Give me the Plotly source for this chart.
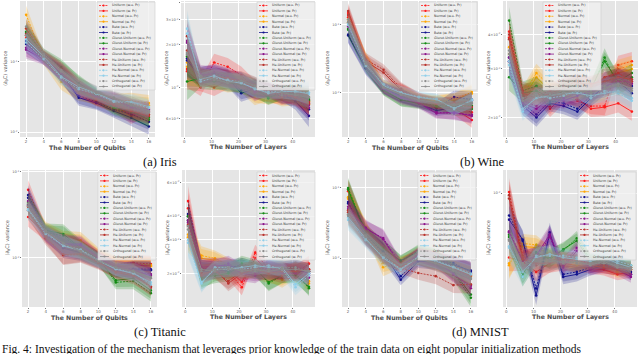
import plotly.graph_objects as go

x_qubits = [2, 4, 6, 8, 10, 12, 14, 16]
x_layers = [1, 6, 11, 16, 21, 26, 31, 36, 41, 46]

methods = ["Uniform", "Normal", "Beta", "Glorot-Uniform", "Glorot-Normal",
           "He-Uniform", "He-Normal", "Orthogonal"]
method_colors = ["#ff1a1a", "#ffa500", "#10108c", "#138a13", "#8a138a",
                 "#b8322c", "#8fcfea", "#8c8c8c"]
variants = ["w.o. Pr", "w. Pr"]

# rows: Uniform wo, Uniform w, Normal wo, Normal w, Beta wo, Beta w, GlorotU wo, GlorotU w,
#       GlorotN wo, GlorotN w, HeU wo, HeU w, HeN wo, HeN w, Orth wo, Orth w
iris_qubits = [
    [0.24, 0.12, 0.075, 0.042, 0.032, 0.026, 0.018, 0.020],
    [0.22, 0.11, 0.070, 0.040, 0.030, 0.024, 0.017, 0.022],
    [0.47, 0.11, 0.052, 0.036, 0.031, 0.028, 0.028, 0.026],
    [0.30, 0.12, 0.060, 0.038, 0.030, 0.025, 0.025, 0.024],
    [0.20, 0.12, 0.065, 0.033, 0.027, 0.021, 0.018, 0.014],
    [0.18, 0.11, 0.068, 0.031, 0.026, 0.020, 0.016, 0.012],
    [0.27, 0.13, 0.085, 0.048, 0.033, 0.022, 0.019, 0.016],
    [0.26, 0.12, 0.080, 0.050, 0.034, 0.023, 0.020, 0.015],
    [0.16, 0.115, 0.070, 0.040, 0.031, 0.029, 0.022, 0.020],
    [0.15, 0.11, 0.072, 0.042, 0.032, 0.030, 0.023, 0.021],
    [0.30, 0.125, 0.078, 0.045, 0.030, 0.025, 0.021, 0.018],
    [0.25, 0.12, 0.074, 0.043, 0.029, 0.024, 0.020, 0.017],
    [0.19, 0.11, 0.060, 0.041, 0.035, 0.027, 0.026, 0.022],
    [0.21, 0.12, 0.062, 0.044, 0.036, 0.028, 0.027, 0.023],
    [0.32, 0.13, 0.077, 0.046, 0.037, 0.030, 0.024, 0.019],
    [0.24, 0.12, 0.073, 0.047, 0.036, 0.031, 0.025, 0.020],
]
iris_qubits_spread = [1.35, 1.2, 1.3, 1.3, 1.25, 1.25, 1.3, 1.3]

iris_layers = [
    [0.0135, 0.0100, 0.0150, 0.0140, 0.0122, 0.0098, 0.0092, 0.0095, 0.0088, 0.0082],
    [0.0130, 0.0108, 0.0100, 0.0112, 0.0110, 0.0095, 0.0088, 0.0084, 0.0090, 0.0078],
    [0.0140, 0.0115, 0.0118, 0.0110, 0.0105, 0.0086, 0.0090, 0.0082, 0.0086, 0.0080],
    [0.0150, 0.0120, 0.0112, 0.0106, 0.0108, 0.0090, 0.0085, 0.0088, 0.0092, 0.0076],
    [0.0160, 0.0122, 0.0125, 0.0118, 0.0095, 0.0100, 0.0094, 0.0086, 0.0084, 0.0070],
    [0.0155, 0.0118, 0.0120, 0.0116, 0.0091, 0.0098, 0.0096, 0.0090, 0.0080, 0.0063],
    [0.0165, 0.0112, 0.0110, 0.0112, 0.0106, 0.0100, 0.0084, 0.0092, 0.0088, 0.0083],
    [0.0110, 0.0116, 0.0114, 0.0108, 0.0104, 0.0096, 0.0086, 0.0090, 0.0091, 0.0081],
    [0.0213, 0.0125, 0.0122, 0.0114, 0.0112, 0.0092, 0.0098, 0.0087, 0.0090, 0.0075],
    [0.0207, 0.0120, 0.0128, 0.0120, 0.0110, 0.0094, 0.0096, 0.0089, 0.0086, 0.0072],
    [0.0230, 0.0118, 0.0116, 0.0115, 0.0113, 0.0104, 0.0095, 0.0085, 0.0089, 0.0079],
    [0.0182, 0.0113, 0.0119, 0.0117, 0.0108, 0.0101, 0.0092, 0.0091, 0.0085, 0.0077],
    [0.0260, 0.0110, 0.0117, 0.0113, 0.0109, 0.0097, 0.0093, 0.0094, 0.0093, 0.0092],
    [0.0240, 0.0114, 0.0121, 0.0111, 0.0107, 0.0099, 0.0091, 0.0093, 0.0094, 0.0090],
    [0.0170, 0.0121, 0.0113, 0.0109, 0.0111, 0.0102, 0.0097, 0.0088, 0.0090, 0.0086],
    [0.0175, 0.0117, 0.0115, 0.0107, 0.0112, 0.0103, 0.0099, 0.0092, 0.0088, 0.0085],
]
iris_layers_spread = [1.35, 1.15, 1.15, 1.15, 1.15, 1.15, 1.12, 1.12, 1.15, 1.2]

wine_qubits = [
    [0.13, 0.030, 0.013, 0.011, 0.0085, 0.0072, 0.0065, 0.0052],
    [0.15, 0.028, 0.012, 0.0105, 0.0080, 0.0068, 0.0060, 0.0040],
    [0.12, 0.032, 0.0125, 0.0100, 0.0082, 0.0078, 0.0080, 0.0103],
    [0.11, 0.030, 0.0130, 0.0098, 0.0078, 0.0075, 0.0078, 0.0098],
    [0.072, 0.024, 0.0120, 0.0092, 0.0075, 0.0060, 0.0087, 0.0080],
    [0.070, 0.023, 0.0115, 0.0090, 0.0072, 0.0055, 0.0062, 0.0078],
    [0.085, 0.026, 0.0112, 0.0080, 0.0073, 0.0065, 0.0063, 0.0065],
    [0.088, 0.025, 0.0110, 0.0079, 0.0070, 0.0062, 0.0058, 0.0058],
    [0.10, 0.027, 0.0118, 0.0088, 0.0074, 0.0052, 0.0050, 0.0048],
    [0.095, 0.026, 0.0116, 0.0085, 0.0071, 0.0050, 0.0052, 0.0046],
    [0.14, 0.031, 0.022, 0.0115, 0.0084, 0.0070, 0.0072, 0.0076],
    [0.16, 0.029, 0.020, 0.0110, 0.0081, 0.0069, 0.0070, 0.0062],
    [0.10, 0.025, 0.0135, 0.0102, 0.0088, 0.0082, 0.0058, 0.0080],
    [0.105, 0.027, 0.0128, 0.0100, 0.0086, 0.0080, 0.0060, 0.0077],
    [0.12, 0.028, 0.0122, 0.0094, 0.0077, 0.0074, 0.0068, 0.0070],
    [0.11, 0.027, 0.0120, 0.0096, 0.0079, 0.0073, 0.0066, 0.0072],
]
wine_qubits_spread = [1.3, 1.25, 1.2, 1.25, 1.2, 1.2, 1.25, 1.3]

wine_layers = [
    [0.041, 0.024, 0.026, 0.022, 0.025, 0.023, 0.022, 0.022, 0.031, 0.032],
    [0.039, 0.023, 0.025, 0.0215, 0.024, 0.0235, 0.0215, 0.0218, 0.0225, 0.021],
    [0.036, 0.024, 0.029, 0.026, 0.024, 0.025, 0.0245, 0.026, 0.030, 0.031],
    [0.034, 0.0235, 0.028, 0.025, 0.0245, 0.0255, 0.024, 0.025, 0.029, 0.030],
    [0.033, 0.0225, 0.0205, 0.023, 0.0225, 0.0215, 0.024, 0.027, 0.028, 0.026],
    [0.032, 0.022, 0.020, 0.0225, 0.022, 0.021, 0.0235, 0.026, 0.027, 0.0245],
    [0.045, 0.025, 0.026, 0.024, 0.0255, 0.026, 0.025, 0.033, 0.026, 0.028],
    [0.028, 0.0245, 0.025, 0.0235, 0.025, 0.0245, 0.0255, 0.032, 0.027, 0.029],
    [0.033, 0.023, 0.022, 0.024, 0.0235, 0.0245, 0.0245, 0.026, 0.027, 0.027],
    [0.032, 0.0225, 0.0215, 0.0235, 0.023, 0.024, 0.025, 0.0255, 0.028, 0.0265],
    [0.040, 0.025, 0.024, 0.025, 0.026, 0.027, 0.026, 0.028, 0.029, 0.027],
    [0.0385, 0.0245, 0.0235, 0.0245, 0.0255, 0.0265, 0.0265, 0.027, 0.028, 0.0275],
    [0.031, 0.021, 0.024, 0.0235, 0.024, 0.025, 0.0235, 0.025, 0.0245, 0.023],
    [0.032, 0.0215, 0.0235, 0.024, 0.0245, 0.0245, 0.024, 0.0245, 0.025, 0.0235],
    [0.035, 0.0235, 0.0245, 0.0245, 0.025, 0.0255, 0.025, 0.026, 0.026, 0.025],
    [0.034, 0.023, 0.024, 0.024, 0.0245, 0.025, 0.0245, 0.0255, 0.0265, 0.0255],
]
wine_layers_spread = [1.12, 1.08, 1.08, 1.07, 1.07, 1.07, 1.07, 1.08, 1.08, 1.08]

titanic_qubits = [
    [0.062, 0.020, 0.015, 0.0135, 0.0105, 0.0085, 0.0088, 0.0085],
    [0.030, 0.019, 0.014, 0.0130, 0.0100, 0.0080, 0.0082, 0.0082],
    [0.045, 0.022, 0.016, 0.0160, 0.0110, 0.0088, 0.0085, 0.0083],
    [0.040, 0.021, 0.015, 0.0150, 0.0105, 0.0083, 0.0080, 0.0080],
    [0.054, 0.020, 0.0135, 0.0120, 0.0095, 0.0072, 0.0075, 0.0074],
    [0.050, 0.019, 0.0130, 0.0115, 0.0092, 0.0070, 0.0073, 0.0072],
    [0.044, 0.020, 0.018, 0.0125, 0.0100, 0.0052, 0.0054, 0.0039],
    [0.042, 0.021, 0.019, 0.0130, 0.0098, 0.0055, 0.0058, 0.0042],
    [0.046, 0.018, 0.0140, 0.0140, 0.0098, 0.0078, 0.0070, 0.0065],
    [0.041, 0.019, 0.0145, 0.0145, 0.0102, 0.0076, 0.0072, 0.0062],
    [0.036, 0.018, 0.0108, 0.0110, 0.0088, 0.0070, 0.0065, 0.0045],
    [0.038, 0.017, 0.0110, 0.0112, 0.0090, 0.0068, 0.0062, 0.0047],
    [0.036, 0.019, 0.0140, 0.0125, 0.0095, 0.0075, 0.0068, 0.0049],
    [0.037, 0.020, 0.0138, 0.0122, 0.0093, 0.0074, 0.0066, 0.0052],
    [0.043, 0.021, 0.0150, 0.0118, 0.0091, 0.0078, 0.0069, 0.0060],
    [0.040, 0.020, 0.0148, 0.0120, 0.0094, 0.0077, 0.0071, 0.0058],
]
titanic_qubits_spread = [1.3, 1.2, 1.3, 1.25, 1.2, 1.2, 1.25, 1.25]

titanic_layers = [
    [0.048, 0.021, 0.022, 0.0205, 0.0169, 0.0257, 0.021, 0.021, 0.020, 0.0225],
    [0.044, 0.0205, 0.0215, 0.021, 0.018, 0.024, 0.0205, 0.0205, 0.0205, 0.021],
    [0.032, 0.0248, 0.024, 0.022, 0.0205, 0.021, 0.020, 0.0185, 0.0205, 0.0177],
    [0.031, 0.024, 0.0235, 0.0215, 0.021, 0.0205, 0.0195, 0.019, 0.021, 0.0182],
    [0.041, 0.021, 0.021, 0.0215, 0.022, 0.021, 0.0215, 0.021, 0.0215, 0.0205],
    [0.040, 0.0205, 0.0205, 0.021, 0.0215, 0.0205, 0.021, 0.0205, 0.021, 0.020],
    [0.040, 0.0185, 0.020, 0.0205, 0.0225, 0.0215, 0.0177, 0.0195, 0.020, 0.0167],
    [0.038, 0.019, 0.0195, 0.020, 0.022, 0.021, 0.018, 0.0195, 0.0195, 0.017],
    [0.038, 0.021, 0.0215, 0.0225, 0.0205, 0.020, 0.0205, 0.0205, 0.0205, 0.0195],
    [0.037, 0.0215, 0.022, 0.022, 0.020, 0.0195, 0.0215, 0.020, 0.020, 0.019],
    [0.0355, 0.020, 0.0205, 0.0182, 0.0205, 0.0215, 0.0205, 0.0195, 0.021, 0.0205],
    [0.036, 0.0195, 0.021, 0.0177, 0.020, 0.021, 0.020, 0.0205, 0.0205, 0.021],
    [0.029, 0.0177, 0.0215, 0.0215, 0.021, 0.0215, 0.022, 0.021, 0.0169, 0.0195],
    [0.030, 0.018, 0.021, 0.021, 0.0215, 0.022, 0.0215, 0.0215, 0.0175, 0.020],
    [0.0355, 0.0205, 0.021, 0.021, 0.021, 0.0205, 0.021, 0.0215, 0.0215, 0.0205],
    [0.034, 0.021, 0.0205, 0.0215, 0.0205, 0.021, 0.0205, 0.021, 0.021, 0.0205],
]
titanic_layers_spread = [1.2, 1.12, 1.1, 1.1, 1.1, 1.1, 1.1, 1.1, 1.1, 1.1]

mnist_qubits = [
    [0.094, 0.024, 0.013, 0.0082, 0.0115, 0.0098, 0.0080, 0.0065],
    [0.090, 0.022, 0.012, 0.0078, 0.0110, 0.0095, 0.0076, 0.0060],
    [0.074, 0.027, 0.0074, 0.0085, 0.0105, 0.0090, 0.0072, 0.0055],
    [0.070, 0.026, 0.0085, 0.0088, 0.0100, 0.0088, 0.0070, 0.0058],
    [0.063, 0.021, 0.0125, 0.0055, 0.0095, 0.0092, 0.0085, 0.0063],
    [0.060, 0.020, 0.0120, 0.0049, 0.0090, 0.0088, 0.0080, 0.0066],
    [0.100, 0.023, 0.0140, 0.0090, 0.0125, 0.0105, 0.0062, 0.0027],
    [0.095, 0.022, 0.0135, 0.0092, 0.0120, 0.0100, 0.0065, 0.0030],
    [0.054, 0.026, 0.0193, 0.0080, 0.0108, 0.0096, 0.0060, 0.0037],
    [0.050, 0.027, 0.0185, 0.0076, 0.0112, 0.0094, 0.0058, 0.0040],
    [0.048, 0.020, 0.0115, 0.0072, 0.0061, 0.0055, 0.0041, 0.0042],
    [0.045, 0.019, 0.0110, 0.0075, 0.0100, 0.0085, 0.0072, 0.0056],
    [0.035, 0.018, 0.0105, 0.0070, 0.0105, 0.0092, 0.0075, 0.0060],
    [0.038, 0.019, 0.0100, 0.0068, 0.0102, 0.0090, 0.0073, 0.0058],
    [0.042, 0.021, 0.0115, 0.0080, 0.0098, 0.0086, 0.0068, 0.0052],
    [0.040, 0.020, 0.0110, 0.0079, 0.0096, 0.0084, 0.0066, 0.0050],
]
mnist_qubits_spread = [1.4, 1.3, 1.35, 1.2, 1.25, 1.3, 1.3, 1.35]

mnist_layers = [
    [0.0102, 0.0029, 0.0031, 0.0028, 0.0028, 0.0026, 0.0025, 0.0024, 0.0023, 0.0023],
    [0.0029, 0.0027, 0.0022, 0.0026, 0.0026, 0.0025, 0.0024, 0.0023, 0.0021, 0.0022],
    [0.0025, 0.0038, 0.0037, 0.0030, 0.0027, 0.0025, 0.0026, 0.0025, 0.0022, 0.0023],
    [0.0026, 0.0036, 0.0035, 0.0031, 0.0028, 0.0026, 0.0027, 0.0026, 0.0024, 0.0024],
    [0.0065, 0.0040, 0.0016, 0.0045, 0.0021, 0.0022, 0.0024, 0.0026, 0.0027, 0.0022],
    [0.0060, 0.0041, 0.0014, 0.0047, 0.0020, 0.0021, 0.0023, 0.0025, 0.0026, 0.0021],
    [0.0045, 0.0020, 0.0030, 0.0029, 0.0033, 0.0042, 0.0028, 0.0027, 0.0025, 0.0024],
    [0.0043, 0.0021, 0.0032, 0.0028, 0.0034, 0.0040, 0.0027, 0.0026, 0.0026, 0.0025],
    [0.0048, 0.0028, 0.0029, 0.0043, 0.0025, 0.0035, 0.0024, 0.0025, 0.0024, 0.0021],
    [0.0047, 0.0027, 0.0030, 0.0045, 0.0024, 0.0033, 0.0023, 0.0024, 0.0023, 0.0020],
    [0.0096, 0.0030, 0.0025, 0.0027, 0.0029, 0.0027, 0.0026, 0.0025, 0.0024, 0.0024],
    [0.0090, 0.0028, 0.0026, 0.0026, 0.0028, 0.0028, 0.0025, 0.0024, 0.0023, 0.0023],
    [0.0035, 0.0020, 0.0030, 0.0030, 0.0030, 0.0029, 0.0028, 0.0030, 0.0027, 0.0025],
    [0.0036, 0.0022, 0.0029, 0.0031, 0.0029, 0.0028, 0.0027, 0.0029, 0.0026, 0.0024],
    [0.0040, 0.0026, 0.0028, 0.0027, 0.0027, 0.0026, 0.0026, 0.0026, 0.0025, 0.0023],
    [0.0041, 0.0025, 0.0027, 0.0028, 0.0026, 0.0027, 0.0025, 0.0027, 0.0024, 0.0024],
]
mnist_layers_spread = [1.3, 1.2, 1.2, 1.2, 1.15, 1.15, 1.12, 1.12, 1.12, 1.12]

W, H = 640, 354


def px_x(p):
    return p / W


def px_y(p):
    return 1 - p / H


def rgba(hexcol, a):
    h = hexcol.lstrip("#")
    return f"rgba({int(h[0:2], 16)},{int(h[2:4], 16)},{int(h[4:6], 16)},{a})"


# panel: data, spread, x values, x px domain, y px domain, log y range, y ticks, x title, legend (left, top) px
panels = [
    (iris_qubits, iris_qubits_spread, x_qubits, (20, 155), (1, 137), [-2.07, -0.13],
     [0.01, 0.1], ["10<sup>-2</sup>", "10<sup>-1</sup>"], "The Number of Qubits", (97, 2)),
    (iris_layers, iris_layers_spread, x_layers, (181, 315), (1, 137), [-2.35, -1.39],
     [0.006, 0.01, 0.02, 0.03, 0.04],
     ["6×10<sup>-3</sup>", "10<sup>-2</sup>", "2×10<sup>-2</sup>", "3×10<sup>-2</sup>", "4×10<sup>-2</sup>"],
     "The Number of Layers", (257, 2)),
    (wine_qubits, wine_qubits_spread, x_qubits, (342, 478), (1, 137), [-2.647, -0.648],
     [0.01, 0.1], ["10<sup>-2</sup>", "10<sup>-1</sup>"], "The Number of Qubits", (419, 2)),
    (wine_layers, wine_layers_spread, x_layers, (503, 638), (1, 137), [-1.77, -1.276],
     [0.02, 0.03, 0.04], ["2×10<sup>-2</sup>", "3×10<sup>-2</sup>", "4×10<sup>-2</sup>"],
     "The Number of Layers", (543, 2)),
    (titanic_qubits, titanic_qubits_spread, x_qubits, (22, 157), (170, 307), [-2.57, -0.977],
     [0.01, 0.1], ["10<sup>-2</sup>", "10<sup>-1</sup>"], "The Number of Qubits", (98, 172)),
    (titanic_layers, titanic_layers_spread, x_layers, (182, 315), (170, 307), [-1.876, -1.155],
     [0.02, 0.03, 0.04, 0.06],
     ["2×10<sup>-2</sup>", "3×10<sup>-2</sup>", "4×10<sup>-2</sup>", "6×10<sup>-2</sup>"],
     "The Number of Layers", (257, 172)),
    (mnist_qubits, mnist_qubits_spread, x_qubits, (342, 477), (170, 307), [-2.70, -0.743],
     [0.01, 0.1], ["10<sup>-2</sup>", "10<sup>-1</sup>"], "The Number of Qubits", (418, 172)),
    (mnist_layers, mnist_layers_spread, x_layers, (503, 637), (170, 307), [-2.95, -1.808],
     [0.01], ["10<sup>-2</sup>"], "The Number of Layers", (578, 172)),
]

fig = go.Figure()
layout = dict(
    width=W, height=H, margin=dict(l=0, r=0, t=0, b=0, autoexpand=False),
    paper_bgcolor="white", plot_bgcolor="#e5e5e5", showlegend=False,
    font=dict(family="DejaVu Sans", color="#555555"),
)
annos = []

for k, (data, spread, xs, xd, yd, yr, tv, tt, xtitle, leg) in enumerate(panels, start=1):
    sfx = "" if k == 1 else str(k)
    xa, ya = "x" + sfx, "y" + sfx
    for i, ys in enumerate(data):
        col = method_colors[i // 2]
        wo = i % 2 == 0
        upper = [v * s for v, s in zip(ys, spread)]
        lower = [v / s for v, s in zip(ys, spread)]
        fig.add_trace(go.Scatter(
            x=xs + xs[::-1], y=upper + lower[::-1], xaxis=xa, yaxis=ya,
            fill="toself", fillcolor=rgba(col, 0.22), line=dict(width=0),
            mode="lines", hoverinfo="skip"))
        fig.add_trace(go.Scatter(
            x=xs, y=ys, xaxis=xa, yaxis=ya, mode="lines+markers",
            line=dict(color=col, width=0.9, dash="2px,1.2px" if wo else "solid"),
            marker=dict(size=2.6, color=col),
            name=f"{methods[i // 2]} ({variants[i % 2]})"))
    xrange = [1.3, 16.7] if xs is x_qubits else [-1.25, 48.25]
    xticks = x_qubits if xs is x_qubits else [0, 10, 20, 30, 40]
    layout["xaxis" + sfx] = dict(
        domain=[px_x(xd[0]), px_x(xd[1])], anchor=ya, range=xrange, automargin=False,
        tickvals=xticks, showgrid=True, gridcolor="white", gridwidth=0.8,
        zeroline=False, showline=False, ticks="outside", ticklen=1,
        tickwidth=0.5, tickcolor="#777", tickfont=dict(size=4, color="#666"),
        ticklabelstandoff=-1)
    layout["yaxis" + sfx] = dict(
        domain=[px_y(yd[1]), px_y(yd[0])], anchor=xa, type="log", range=yr, automargin=False,
        tickmode="array", tickvals=tv, ticktext=tt, showgrid=True,
        gridcolor="white", gridwidth=0.8, zeroline=False, showline=False,
        ticks="outside", ticklen=1, tickwidth=0.5, tickcolor="#777",
        tickfont=dict(size=3.6, color="#666"))
    # axis titles
    annos.append(dict(xref="paper", yref="paper", x=px_x((xd[0] + xd[1]) / 2), y=px_y(yd[1] + 10),
                      xanchor="center", yanchor="middle", showarrow=False,
                      text="<b>" + xtitle + "</b>", font=dict(size=6.2, color="#4d4d4d")))
    annos.append(dict(xref="paper", yref="paper", x=px_x(xd[0] - 15), y=px_y((yd[0] + yd[1]) / 2),
                      xanchor="center", yanchor="middle", showarrow=False, textangle=-90,
                      text="⟨∂<sub>θ</sub>C⟩ variance", font=dict(size=5, color="#4d4d4d")))

fig.update_layout(**layout)

# hand-drawn legends (one per panel)
shapes = []
for data, spread, xs, xd, yd, yr, tv, tt, xtitle, (lx, ly) in panels:
    shapes.append(dict(type="rect", xref="paper", yref="paper", layer="above",
                       x0=px_x(lx), x1=px_x(lx + 58), y0=px_y(ly + 88), y1=px_y(ly),
                       fillcolor="rgba(240,240,240,0.8)", line=dict(color="#cfcfcf", width=0.6)))
    for i in range(16):
        col = method_colors[i // 2]
        wo = i % 2 == 0
        yy = ly + 3.5 + i * 5.4
        shapes.append(dict(type="line", xref="paper", yref="paper", layer="above",
                           x0=px_x(lx + 2), x1=px_x(lx + 11), y0=px_y(yy), y1=px_y(yy),
                           line=dict(color=col, width=0.8, dash="2px,1.2px" if wo else "solid")))
        shapes.append(dict(type="circle", xref="paper", yref="paper", layer="above",
                           x0=px_x(lx + 5.4), x1=px_x(lx + 7.6), y0=px_y(yy + 1.1), y1=px_y(yy - 1.1),
                           fillcolor=col, line=dict(width=0)))
        annos.append(dict(xref="paper", yref="paper", x=px_x(lx + 12.5), y=px_y(yy),
                          xanchor="left", yanchor="middle", showarrow=False,
                          text=f"{methods[i // 2]} ({variants[i % 2]})",
                          font=dict(size=3.3, color="#333333")))

serif = "Liberation Serif"
for txt, cx, cy in [("(a) Iris", 160, 162), ("(b) Wine", 482, 162),
                    ("(c) Titanic", 160, 332), ("(d) MNIST", 480, 332)]:
    annos.append(dict(xref="paper", yref="paper", x=px_x(cx), y=px_y(cy), showarrow=False,
                      xanchor="center", yanchor="middle", text=txt,
                      font=dict(family=serif, size=12.5, color="#111111")))
annos.append(dict(xref="paper", yref="paper", x=0, y=px_y(349), showarrow=False,
                  xanchor="left", yanchor="middle",
                  text="Fig. 4: Investigation of the mechanism that leverages prior knowledge "
                       "of the train data on eight popular initialization methods",
                  font=dict(family=serif, size=11.5, color="#111111")))

fig.update_layout(shapes=shapes, annotations=annos)
# page body margin reset so the 640x354 figure sits at the window's origin
fig.write_html("out.html", config={"displayModeBar": False},
               post_script="document.body.style.margin = '0px';")
